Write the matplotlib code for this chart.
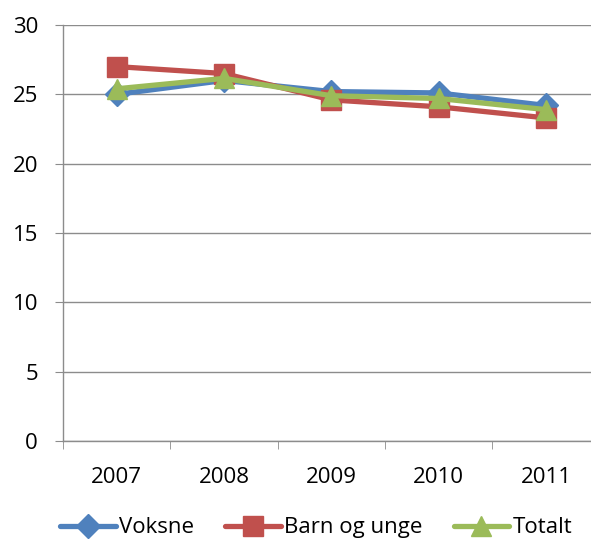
import matplotlib
matplotlib.use("Agg")
import matplotlib.pyplot as plt

years = ["2007", "2008", "2009", "2010", "2011"]
voksne = [25.0, 26.0, 25.2, 25.1, 24.2]
barn_og_unge = [27.0, 26.5, 24.6, 24.1, 23.3]
totalt = [25.4, 26.15, 24.9, 24.7, 23.9]

plt.rcParams["font.family"] = ["Open Sans", "DejaVu Sans"]

fig = plt.figure(figsize=(5.91, 5.42), dpi=100)
ax = fig.add_axes([63 / 591, 101 / 542, 1 - 63 / 591, 416 / 542])

x = range(len(years))
series = [
    ("Voksne", voksne, "#4F81BD", "D", 12),
    ("Barn og unge", barn_og_unge, "#C0504D", "s", 14),
    ("Totalt", totalt, "#9BBB59", "^", 15),
]
for name, vals, col, mk, ms in series:
    ax.plot(x, vals, color=col, lw=3.8, marker=mk, ms=ms, label=name,
            solid_capstyle="round", clip_on=False)

ax.set_ylim(0, 30)
ax.set_yticks(range(0, 31, 5))
ax.set_xlim(-0.5, 4.42)
ax.set_xticks(list(x))
ax.set_xticklabels(years)
ax.set_xticks([i - 0.5 for i in range(5)], minor=True)

ax.grid(axis="y", color="#8c8c8c", lw=1)
ax.set_axisbelow(True)
for s in ["top", "right"]:
    ax.spines[s].set_visible(False)
for s in ["left", "bottom"]:
    ax.spines[s].set_color("#8c8c8c")
    ax.spines[s].set_linewidth(1)

ax.tick_params(axis="y", length=6, color="#8c8c8c", pad=12, labelsize=16)
ax.tick_params(axis="x", which="major", length=0, pad=19, labelsize=16)
ax.tick_params(axis="x", which="minor", length=6, color="#8c8c8c")

fig.legend(loc="center", bbox_to_anchor=(0.535, 0.026), ncol=3, frameon=False,
           fontsize=16, handlelength=2.5, handletextpad=0.15, columnspacing=1.4)

fig.savefig("out.png", dpi=100)
